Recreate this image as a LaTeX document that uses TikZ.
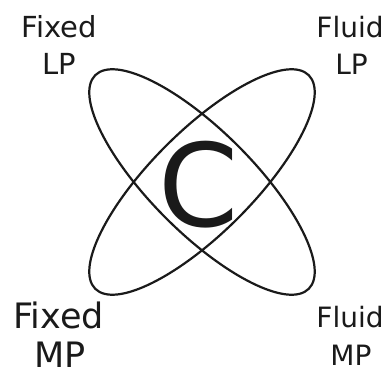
\documentclass[tikz,border=0pt]{standalone}
\usepackage{fontspec}
\setmainfont{DejaVu Sans}
\definecolor{ink}{HTML}{1A1A1A}
\begin{document}
\begin{tikzpicture}[x=1pt,y=-1pt,
  lbl/.style={anchor=base,inner sep=0pt,text=ink},
  orbit/.style={draw=ink,line width=2.2pt}]
\useasboundingbox (0,0) rectangle (389,375);
\coordinate (c) at (202,182);
\draw[orbit,rotate around={45:(c)}] (c) ellipse [x radius=151, y radius=51];
\draw[orbit,rotate around={-45:(c)}] (c) ellipse [x radius=151, y radius=51];
\node[lbl,font=\fontsize{115}{115}\selectfont] (C) at (199,226) {C};
% top-left
\node[lbl,font=\fontsize{29}{37}\selectfont] (fxlpa) at (59,37) {Fixed};
\node[lbl,font=\fontsize{29}{37}\selectfont] (fxlpb) at (59.5,74) {LP};
% top-right
\node[lbl,font=\fontsize{28}{37}\selectfont] (fllpa) at (350,37) {Fluid};
\node[lbl,font=\fontsize{28}{37}\selectfont] (fllpb) at (351.5,74) {LP};
% bottom-left
\node[lbl,font=\fontsize{35}{40}\selectfont] (fxmpa) at (58.5,328) {Fixed};
\node[lbl,font=\fontsize{35}{40}\selectfont] (fxmpb) at (60,367) {MP};
% bottom-right
\node[lbl,font=\fontsize{28}{37}\selectfont] (flmpa) at (350,327) {Fluid};
\node[lbl,font=\fontsize{28}{37}\selectfont] (flmpb) at (351,365) {MP};
\end{tikzpicture}
\end{document}
